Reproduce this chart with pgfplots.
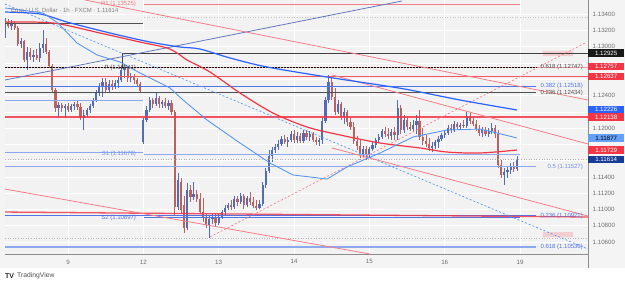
\documentclass[border=0pt]{standalone}
\usepackage{pgfplots}
\pgfplotsset{compat=1.18}
\usepackage{pgfplotstable}
\usepackage{fontspec}
\setmainfont{Liberation Sans}

\definecolor{bgc}{RGB}{242,242,242}
\definecolor{stripc}{RGB}{244,244,244}
\definecolor{upc}{RGB}{82,108,182}
\definecolor{dnc}{RGB}{186,98,98}
\definecolor{tvred}{RGB}{242,54,69}
\definecolor{tvpink}{RGB}{242,125,135}
\definecolor{tvblue}{RGB}{41,98,255}
\definecolor{tvlblue}{RGB}{90,150,240}
\definecolor{pvblue}{RGB}{140,168,238}
\definecolor{fibblue}{RGB}{80,115,230}
\definecolor{darkg}{RGB}{80,80,80}
\definecolor{tickg}{RGB}{110,110,110}
\definecolor{purp}{RGB}{100,120,190}
\definecolor{navyb}{RGB}{25,60,150}
\definecolor{midblue}{RGB}{100,160,245}
\definecolor{axisc}{RGB}{140,140,140}

\pgfplotstableread{
h o hi lo c
-20 1.13121 1.13355 1.13109 1.13305
-19 1.13305 1.13342 1.13232 1.13256
-18 1.13256 1.13330 1.13207 1.13281
-17 1.13281 1.13318 1.13207 1.13232
-16 1.13232 1.13256 1.13010 1.13035
-15 1.13035 1.13109 1.12986 1.13072
-14 1.13072 1.13084 1.12813 1.12838
-13 1.12838 1.12998 1.12715 1.12936
-12 1.12936 1.12986 1.12838 1.12875
-11 1.12875 1.12961 1.12813 1.12900
-10 1.12900 1.12973 1.12838 1.12863
-9 1.12863 1.13047 1.12813 1.12986
-8 1.12986 1.13207 1.12924 1.13035
-7 1.13035 1.13109 1.12912 1.12936
-6 1.12936 1.12961 1.12740 1.12764
-5 1.12764 1.12789 1.12444 1.12469
-4 1.12469 1.12494 1.12198 1.12248
-3 1.12248 1.12321 1.12125 1.12285
-2 1.12285 1.12309 1.12198 1.12248
-1 1.12248 1.12297 1.12125 1.12272
0 1.12272 1.12309 1.12198 1.12223
1 1.12223 1.12297 1.12198 1.12272
2 1.12272 1.12321 1.12223 1.12297
3 1.12297 1.12334 1.12223 1.12260
4 1.12260 1.12309 1.12100 1.12125
5 1.12125 1.12223 1.11977 1.12162
6 1.12162 1.12248 1.12137 1.12223
7 1.12223 1.12297 1.12186 1.12272
8 1.12272 1.12371 1.12248 1.12346
9 1.12346 1.12469 1.12321 1.12432
10 1.12432 1.12555 1.12395 1.12518
11 1.12518 1.12617 1.12383 1.12567
12 1.12567 1.12617 1.12444 1.12469
13 1.12469 1.12592 1.12444 1.12543
14 1.12543 1.12592 1.12469 1.12506
15 1.12506 1.12592 1.12481 1.12555
16 1.12555 1.12641 1.12494 1.12592
17 1.12592 1.12764 1.12567 1.12715
18 1.12715 1.12789 1.12617 1.12740
19 1.12740 1.12764 1.12567 1.12617
20 1.12617 1.12678 1.12567 1.12641
21 1.12641 1.12666 1.12543 1.12592
22 1.12592 1.12617 1.12518 1.12543
23 1.12543 1.12567 1.12432 1.12457
24 1.11829 1.12125 1.11805 1.12100
25 1.12100 1.12272 1.12075 1.12223
26 1.12223 1.12383 1.12198 1.12346
27 1.12346 1.12371 1.12248 1.12297
28 1.12297 1.12432 1.12272 1.12371
29 1.12371 1.12395 1.12248 1.12297
30 1.12297 1.12346 1.12248 1.12321
31 1.12321 1.12371 1.12248 1.12272
32 1.12272 1.12346 1.12223 1.12309
33 1.12309 1.12346 1.12162 1.12198
34 1.12198 1.12223 1.10931 1.11030
35 1.11030 1.11448 1.10993 1.11362
36 1.11337 1.11387 1.10944 1.10993
37 1.11054 1.11165 1.10710 1.10772
38 1.10772 1.11325 1.10747 1.11239
39 1.11239 1.11301 1.11091 1.11153
40 1.11153 1.11337 1.11116 1.11190
41 1.11190 1.11239 1.11091 1.11128
42 1.11128 1.11202 1.10944 1.10968
43 1.10968 1.11140 1.10845 1.10895
44 1.10895 1.10944 1.10772 1.10808
45 1.10808 1.10931 1.10649 1.10882
46 1.10882 1.10944 1.10821 1.10907
47 1.10907 1.10956 1.10796 1.10833
48 1.10833 1.10944 1.10808 1.10907
49 1.10907 1.10993 1.10882 1.10968
50 1.10968 1.11054 1.10931 1.11018
51 1.11018 1.11079 1.10993 1.11054
52 1.11054 1.11116 1.10993 1.11030
53 1.11030 1.11165 1.11005 1.11128
54 1.11128 1.11165 1.11042 1.11091
55 1.11091 1.11202 1.11067 1.11165
56 1.11165 1.11190 1.11005 1.11054
57 1.11054 1.11165 1.11030 1.11140
58 1.11140 1.11214 1.11054 1.11091
59 1.11091 1.11153 1.11018 1.11042
60 1.11042 1.11116 1.10993 1.11018
61 1.11018 1.11116 1.11005 1.11067
62 1.11067 1.11337 1.11042 1.11301
63 1.11301 1.11510 1.11264 1.11473
64 1.11473 1.11731 1.11448 1.11657
65 1.11657 1.11768 1.11583 1.11731
66 1.11731 1.11805 1.11694 1.11768
67 1.11768 1.11854 1.11731 1.11805
68 1.11805 1.11903 1.11780 1.11866
69 1.11866 1.11916 1.11805 1.11829
70 1.11829 1.11891 1.11768 1.11854
71 1.11854 1.11965 1.11829 1.11928
72 1.11928 1.11977 1.11817 1.11854
73 1.11854 1.11952 1.11817 1.11903
74 1.11903 1.11940 1.11817 1.11842
75 1.11842 1.11977 1.11817 1.11940
76 1.11940 1.11977 1.11854 1.11891
77 1.11891 1.11965 1.11842 1.11928
78 1.11928 1.11952 1.11829 1.11854
79 1.11854 1.11891 1.11793 1.11829
80 1.11829 1.11879 1.11780 1.11854
81 1.11854 1.12125 1.11805 1.12088
82 1.12088 1.12383 1.12063 1.12346
83 1.12346 1.12654 1.12309 1.12567
84 1.12567 1.12617 1.12346 1.12383
85 1.12383 1.12494 1.12162 1.12198
86 1.12198 1.12346 1.12174 1.12297
87 1.12297 1.12321 1.12100 1.12137
88 1.12137 1.12248 1.12051 1.12198
89 1.12198 1.12223 1.12026 1.12075
90 1.12075 1.12125 1.11977 1.12014
91 1.12014 1.12075 1.11805 1.11842
92 1.11842 1.11903 1.11731 1.11780
93 1.11780 1.11854 1.11633 1.11682
94 1.11682 1.11780 1.11645 1.11743
95 1.11743 1.11780 1.11608 1.11670
96 1.11670 1.11768 1.11645 1.11743
97 1.11743 1.11829 1.11719 1.11793
98 1.11793 1.11879 1.11756 1.11854
99 1.11854 1.11928 1.11817 1.11891
100 1.11891 1.11989 1.11866 1.11965
101 1.11965 1.12014 1.11891 1.11928
102 1.11928 1.12002 1.11866 1.11903
103 1.11903 1.11989 1.11854 1.11952
104 1.11952 1.12014 1.11854 1.11916
105 1.11916 1.12346 1.11854 1.12248
106 1.12248 1.12285 1.11928 1.11977
107 1.11977 1.12162 1.11940 1.12100
108 1.12100 1.12137 1.11977 1.12014
109 1.12014 1.12075 1.11965 1.11989
110 1.11989 1.12100 1.11965 1.12039
111 1.12039 1.12162 1.11928 1.12088
112 1.12088 1.12223 1.11854 1.11891
113 1.11891 1.12002 1.11793 1.11842
114 1.11842 1.11916 1.11768 1.11805
115 1.11805 1.11879 1.11719 1.11756
116 1.11756 1.11829 1.11706 1.11780
117 1.11780 1.11854 1.11743 1.11829
118 1.11829 1.11903 1.11756 1.11866
119 1.11866 1.11940 1.11842 1.11916
120 1.11916 1.11965 1.11879 1.11940
121 1.11940 1.12039 1.11916 1.12002
122 1.12002 1.12051 1.11940 1.11977
123 1.11977 1.12088 1.11952 1.12051
124 1.12051 1.12075 1.11977 1.12014
125 1.12014 1.12063 1.11977 1.12039
126 1.12039 1.12100 1.12002 1.12026
127 1.12026 1.12198 1.12002 1.12149
128 1.12149 1.12186 1.12051 1.12088
129 1.12088 1.12149 1.12026 1.12051
130 1.12051 1.12100 1.11965 1.11989
131 1.11989 1.12039 1.11903 1.11940
132 1.11940 1.12014 1.11891 1.11977
133 1.11977 1.12014 1.11903 1.11928
134 1.11928 1.12002 1.11891 1.11965
135 1.11965 1.12063 1.11928 1.12002
136 1.12002 1.12039 1.11879 1.11928
137 1.11928 1.11977 1.11510 1.11547
138 1.11547 1.11608 1.11387 1.11424
139 1.11424 1.11510 1.11301 1.11460
140 1.11460 1.11534 1.11387 1.11485
141 1.11485 1.11571 1.11436 1.11534
142 1.11534 1.11583 1.11460 1.11497
143 1.11497 1.11657 1.11473 1.11614
}\candles

\begin{document}
\begin{tikzpicture}
\path[use as bounding box] (0,0) rectangle (625bp,287bp);
\fill[white] (0,0) rectangle (625bp,287bp);
\fill[stripc] (0,19bp) rectangle (625bp,287bp);
\begin{axis}[
  at={(5bp,33bp)}, anchor=south west,
  scale only axis, width=583bp, height=254bp,
  xmin=-20.07, xmax=165.65, ymin=1.10452, ymax=1.13576,
  axis background/.style={fill=bgc},
  axis x line*=bottom, axis y line*=right,
  axis line style={draw=axisc, line width=0.6bp},
  xtick={0,24,48,72,96,120,144},
  xticklabels={9,12,13,14,15,16,19},
  ytick={1.106,1.108,1.110,1.112,1.114,1.120,1.124,1.130,1.132,1.134},
  extra y ticks={1.116,1.118,1.122,1.126,1.128},
  extra y tick labels={},
  extra y tick style={grid=major},
  yticklabel pos=right,
  scaled y ticks=false,
  /pgf/number format/assume math mode=true,
  yticklabel style={/pgf/number format/fixed, /pgf/number format/fixed zerofill, /pgf/number format/precision=5, inner sep=0pt, xshift=4.5bp},
  tick label style={font=\fontsize{6.2}{7}\selectfont, text=tickg},
  xticklabel style={inner sep=0pt, yshift=-5.5bp},
  major tick length=0pt,
  grid=major, major grid style={draw=white, line width=0.7bp},
  clip mode=individual,
]
% ---- candles: wicks (lo -> hi) and bodies (open -> close)
\addplot[upc, line width=0.6bp, -, quiver={u=0, v={\thisrow{hi}-\thisrow{lo}}},
  restrict expr to domain={\thisrow{c}-\thisrow{o}}{0:1}]
  table[x=h, y=lo] {\candles};
\addplot[dnc, line width=0.6bp, -, quiver={u=0, v={\thisrow{hi}-\thisrow{lo}}},
  restrict expr to domain={\thisrow{c}-\thisrow{o}}{-1:-0.000001}]
  table[x=h, y=lo] {\candles};
\addplot[upc, line width=2.2bp, -, quiver={u=0, v={\thisrow{c}-\thisrow{o}}},
  restrict expr to domain={\thisrow{c}-\thisrow{o}}{0:1}]
  table[x=h, y=o] {\candles};
\addplot[dnc, line width=2.2bp, -, quiver={u=0, v={\thisrow{o}-\thisrow{c}}},
  restrict expr to domain={\thisrow{c}-\thisrow{o}}{-1:-0.000001}]
  table[x=h, y=c] {\candles};

% ---- pink boxes
\addplot[fill=tvpink, fill opacity=0.3, draw=none] coordinates {(151.3,1.12949) (160.9,1.12949) (160.9,1.12887) (151.3,1.12887) (151.3,1.12949)};
\addplot[fill=tvpink, fill opacity=0.3, draw=none] coordinates {(151.3,1.10722) (160.9,1.10722) (160.9,1.10661) (151.3,1.10661) (151.3,1.10722)};

% ---- horizontal levels
\addplot[tvpink, line width=0.8bp] coordinates {(24.21,1.13525) (144,1.13525)};
\addplot[gray!45, dotted, line width=0.6bp] coordinates {(24.21,1.13363) (165.65,1.13363)};
\addplot[darkg, line width=0.7bp] coordinates {(-20.07,1.13289) (23.89,1.13289)};
\addplot[black!75, line width=0.8bp] coordinates {(17.2,1.12747) (17.2,1.12925) (165.65,1.12925)};
\addplot[tvred, opacity=0.45, line width=1.6bp] coordinates {(-20.07,1.12744) (165.65,1.12744)};
\addplot[black, line width=0.7bp, dash pattern=on 1.5bp off 1.5bp] coordinates {(-20.07,1.12747) (149.1,1.12747)};
\addplot[tvred!85, line width=0.8bp] coordinates {(-20.07,1.12637) (165.65,1.12637)};
\addplot[fibblue, line width=0.8bp] coordinates {(-20.07,1.12518) (149.1,1.12518)};
\addplot[darkg, line width=0.8bp] coordinates {(-20.07,1.12434) (149.1,1.12434)};
\addplot[pvblue, line width=1bp] coordinates {(-20.07,1.12334) (23.89,1.12334)};
\addplot[tvred, opacity=0.85, line width=1.5bp] coordinates {(-20.07,1.12138) (165.65,1.12138)};
\addplot[pvblue, line width=1.3bp] coordinates {(-20.07,1.11698) (23.89,1.11698)};
\addplot[pvblue, line width=1.3bp] coordinates {(24.21,1.11678) (144,1.11678)};
\addplot[gray!60, dotted, line width=0.6bp] coordinates {(-20.07,1.11614) (165.65,1.11614)};
\addplot[pvblue, line width=1.1bp] coordinates {(-20.07,1.11527) (149.1,1.11527)};
\addplot[fibblue, line width=0.8bp] coordinates {(-20.07,1.10921) (149.1,1.10921)};
\addplot[fibblue, line width=0.8bp] coordinates {(24.21,1.10897) (144,1.10897)};
\addplot[gray!55, dotted, line width=0.6bp] coordinates {(-20.07,1.10649) (165.65,1.10649)};
\addplot[pvblue, line width=1.5bp] coordinates {(-20.07,1.10536) (149.1,1.10536)};
\addplot[tvred, opacity=0.85, line width=1.3bp] coordinates {(-20.07,1.10968) (165.65,1.10907)};

% ---- sloped drawings
\addplot[purp, line width=0.8bp] coordinates {(-20.07,1.12592) (106.40,1.13564)};
\addplot[tvlblue, line width=0.7bp, dash pattern=on 2bp off 2bp] coordinates {(-20.07,1.13526) (165.65,1.10513)};
\addplot[tvpink, line width=0.7bp, dash pattern=on 2bp off 2bp] coordinates {(45.24,1.10661) (164.70,1.13047)};
\addplot[tvpink, line width=0.8bp] coordinates {(5.42,1.13576) (165.65,1.12346)};
\addplot[tvpink, line width=0.8bp] coordinates {(84.10,1.12654) (165.65,1.11805)};
\addplot[tvpink, line width=0.8bp] coordinates {(84.10,1.11756) (165.65,1.10919)};
\addplot[tvpink, line width=0.8bp] coordinates {(-20.07,1.11251) (96.21,1.10452)};

% ---- moving averages
\addplot[tvred, line width=1.2bp, smooth] coordinates {(-20.07,1.13305) (-4.78,1.13293) (10.19,1.13170) (22.94,1.13059) (31.54,1.12986) (35.68,1.12900) (37.91,1.12838) (45.24,1.12690) (54.79,1.12432) (65.31,1.12186) (76.14,1.12014) (86.65,1.11916) (99.39,1.11817) (112.14,1.11756) (120.74,1.11706) (131.25,1.11694) (143.04,1.11731)};
\addplot[tvblue, line width=1.2bp, smooth] coordinates {(-20.07,1.13428) (-8.92,1.13404) (-0.32,1.13305) (13.38,1.13170) (26.12,1.13059) (35.68,1.12998) (42.05,1.12973) (51.61,1.12863) (63.40,1.12752) (84.42,1.12617) (99.39,1.12530) (108.95,1.12469) (124.88,1.12346) (143.04,1.12223)};
\addplot[tvlblue, line width=0.9bp] coordinates {(-20.07,1.13478) (-7.96,1.13416) (-3.19,1.13293) (2.87,1.13047) (9.24,1.12900) (16.57,1.12813) (22.94,1.12678) (32.49,1.12494) (36.64,1.12346) (44.28,1.12100) (54.79,1.11817) (64.35,1.11571) (71.68,1.11424) (82.51,1.11374) (88.88,1.11522) (99.39,1.11694) (109.91,1.11891) (120.74,1.11977) (131.25,1.11989) (136.67,1.11940) (143.04,1.11879)};

% ---- pivot labels
\tikzset{lab/.style={font=\fontsize{6}{7}\selectfont, inner sep=0pt}}
\node[lab, anchor=east, text=tvpink] at (axis cs:21.7,1.13525) {R1 (1.13525)};
\node[lab, anchor=east, text=darkg] at (axis cs:21.7,1.12741) {P (1.12741)};
\node[lab, anchor=east, text=fibblue!80] at (axis cs:21.7,1.11678) {S1 (1.11678)};
\node[lab, anchor=east, text=fibblue] at (axis cs:21.7,1.10897) {S2 (1.10897)};
% ---- fib labels
\node[lab, anchor=east, text=darkg] at (axis cs:164.06,1.12747) {0.618 (1.12747)};
\node[lab, anchor=east, text=fibblue] at (axis cs:164.06,1.12518) {0.382 (1.12518)};
\node[lab, anchor=east, text=darkg] at (axis cs:164.06,1.12434) {0.236 (1.12434)};
\node[lab, anchor=east, text=fibblue!80] at (axis cs:164.06,1.11527) {0.5 (1.11527)};
\node[lab, anchor=east, text=fibblue] at (axis cs:164.06,1.10921) {0.236 (1.10921)};
\node[lab, anchor=east, text=fibblue] at (axis cs:164.06,1.10536) {0.618 (1.10536)};
% ---- price boxes
\tikzset{pbox/.style={anchor=west, inner sep=0pt, minimum width=36bp, minimum height=7.4bp, font=\fontsize{6.2}{7}\selectfont, text=white}}
\node[pbox, fill=black!90] at (axis cs:165.65,1.12925) {1.12925};
\node[pbox, fill=tvred] at (axis cs:165.65,1.12757) {1.12757};
\node[pbox, fill=tvred] at (axis cs:165.65,1.12637) {1.12637};
\node[pbox, fill=tvblue] at (axis cs:165.65,1.12226) {1.12226};
\node[pbox, fill=tvred] at (axis cs:165.65,1.12138) {1.12138};
\node[pbox, fill=midblue, text=black] at (axis cs:165.65,1.11877) {1.11877};
\node[pbox, fill=tvred] at (axis cs:165.65,1.11729) {1.11729};
\node[pbox, fill=navyb] at (axis cs:165.65,1.11614) {1.11614};
\end{axis}
\draw[axisc, line width=0.6bp] (588bp,19bp) -- (588bp,33bp);
\node[anchor=west, inner sep=0pt, font=\fontsize{6}{7}\selectfont, text=gray] at (11bp,277bp) {Euro / U.S. Dollar · 1h · FXCM · 1.11614};
\node[anchor=west, inner sep=0pt, font=\fontsize{7}{8}\selectfont\bfseries, text=black!85] at (5bp,11bp) {TV};
\node[anchor=west, inner sep=0pt, font=\fontsize{6.8}{8}\selectfont, text=darkg] at (17bp,11bp) {TradingView};
\end{tikzpicture}
\end{document}
